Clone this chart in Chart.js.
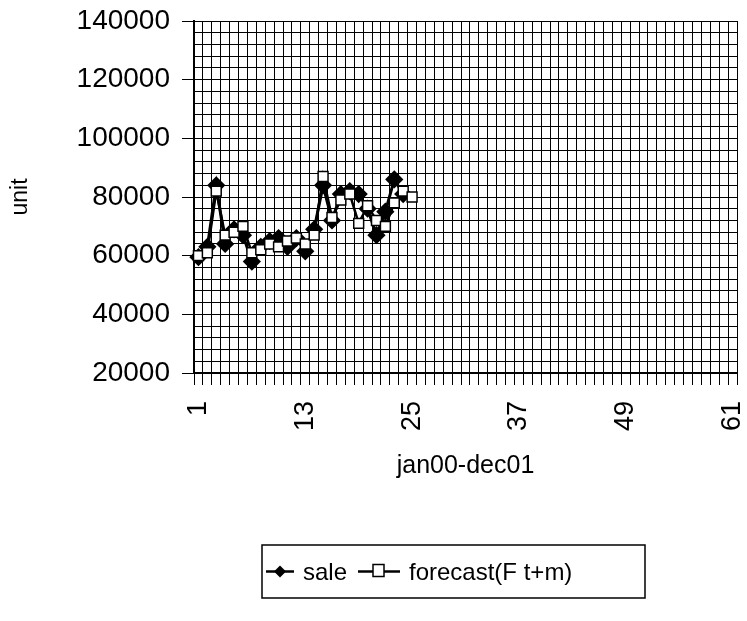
<!DOCTYPE html>
<html>
<head>
<meta charset="utf-8">
<script src="https://cdn.jsdelivr.net/npm/chart.js@4/dist/chart.umd.min.js"></script>
<style>
  html, body { margin: 0; padding: 0; background: #fff; }
  #wrap { width: 747px; height: 621px; }
</style>
</head>
<body>
<div id="wrap"><canvas id="c" width="747" height="621"></canvas></div>
<script>
// Month index, Jan 2000 .. (axis runs to 61)
const months = Array.from({ length: 61 }, (_, i) => String(i + 1));
// Monthly units sold, jan00-dec01
const sale = [59500, 63000, 84000, 64000, 69000, 67000, 58000, 63000, 65000, 66000,
              63000, 66000, 61500, 69000, 84000, 72000, 81000, 82000, 81000, 76000,
              67000, 75000, 86000, 81000];
// Forecast F(t+m)
const forecast = [60000, 61000, 82000, 67000, 68000, 70000, 61000, 62000, 64000, 63000,
                  65000, 66000, 64000, 67000, 87000, 73000, 79000, 81000, 71000, 77000,
                  72000, 70000, 78000, 82000, 80000];
const yTicks = [20000, 40000, 60000, 80000, 100000, 120000, 140000];

const FONT = "'Liberation Sans', Arial, sans-serif";

// Boxed legend with line + marker samples, drawn under the x-axis title
const boxLegend = {
  id: 'boxLegend',
  afterDraw(chart) {
    const ctx = chart.ctx;
    const x0 = 262, y0 = 545, w = 383, h = 53;
    const cy = y0 + h / 2;
    ctx.save();
    ctx.fillStyle = '#fff';
    ctx.fillRect(x0, y0, w, h);
    ctx.strokeStyle = '#000';
    ctx.lineWidth = 1.5;
    ctx.strokeRect(x0, y0, w, h);

    const samples = [{ x: 266, len: 28 }, { x: 358, len: 42 }];
    ctx.font = '24px ' + FONT;
    ctx.textBaseline = 'middle';
    chart.data.datasets.forEach((ds, i) => {
      const sx = samples[i].x, len = samples[i].len;
      ctx.strokeStyle = '#000';
      ctx.lineWidth = 2.5;
      ctx.beginPath();
      ctx.moveTo(sx, cy);
      ctx.lineTo(sx + len, cy);
      ctx.stroke();
      const mx = sx + len / 2;
      ctx.lineWidth = 1.5;
      if (ds.pointStyle === 'rectRot') {
        ctx.fillStyle = '#000';
        ctx.beginPath();
        ctx.moveTo(mx, cy - 6); ctx.lineTo(mx + 6, cy);
        ctx.lineTo(mx, cy + 6); ctx.lineTo(mx - 6, cy);
        ctx.closePath();
        ctx.fill();
      } else {
        ctx.fillStyle = '#fff';
        ctx.fillRect(mx - 6, cy - 7, 11, 12);
        ctx.strokeRect(mx - 6, cy - 7, 11, 12);
      }
      ctx.fillStyle = '#000';
      ctx.fillText(ds.label, sx + len + 9, cy + 2);
    });
    ctx.restore();
  }
};

new Chart(document.getElementById('c'), {
  type: 'line',
  data: {
    labels: months,
    datasets: [
      {
        label: 'sale',
        data: sale,
        borderColor: '#000',
        backgroundColor: '#000',
        borderWidth: 3,
        pointStyle: 'rectRot',
        pointRadius: 7,
        pointBorderColor: '#000',
        pointBackgroundColor: '#000',
        tension: 0,
        order: 2
      },
      {
        label: 'forecast(F t+m)',
        data: forecast,
        borderColor: '#000',
        backgroundColor: '#fff',
        borderWidth: 2.5,
        pointStyle: 'rect',
        pointRadius: 7,
        pointBorderWidth: 1.5,
        pointBorderColor: '#000',
        pointBackgroundColor: '#fff',
        tension: 0,
        order: 1
      }
    ]
  },
  options: {
    responsive: false,
    animation: false,
    layout: { padding: { top: 21, right: 5, bottom: 140, left: 0 } },
    plugins: {
      legend: { display: false },
      tooltip: { enabled: false }
    },
    scales: {
      x: {
        type: 'category',
        offset: true,
        afterFit(s) { s.height = 108; s.paddingLeft = 0; s.paddingRight = 0; },
        grid: {
          offset: true,
          color: '#000',
          lineWidth: 1,
          tickLength: 12,
          tickColor: '#000'
        },
        border: { color: '#000', width: 2 },
        ticks: {
          autoSkip: false,
          minRotation: 90,
          maxRotation: 90,
          padding: 16,
          color: '#000',
          font: { family: FONT, size: 27 },
          callback(v, i) { return i % 12 === 0 ? months[i] : ''; }
        },
        title: {
          display: true,
          text: 'jan00-dec01',
          color: '#000',
          font: { family: FONT, size: 25 },
          padding: 0
        }
      },
      y: {
        min: yTicks[0],
        max: yTicks[yTicks.length - 1],
        afterFit(s) { s.width = 194; s.paddingTop = 0; s.paddingBottom = 0; },
        grid: {
          color: '#000',
          lineWidth: 1,
          tickLength: 12,
          tickColor(ctx) { return yTicks.includes(ctx.tick.value) ? '#000' : 'rgba(0,0,0,0)'; }
        },
        border: { color: '#000', width: 2 },
        ticks: {
          autoSkip: false,
          stepSize: 4000,
          padding: 12,
          color: '#000',
          font: { family: FONT, size: 28 },
          callback(v) { return yTicks.includes(v) ? String(v) : ''; }
        },
        title: {
          display: true,
          text: 'unit',
          color: '#000',
          font: { family: FONT, size: 23 },
          padding: 7
        }
      }
    }
  },
  plugins: [boxLegend]
});
</script>
</body>
</html>
